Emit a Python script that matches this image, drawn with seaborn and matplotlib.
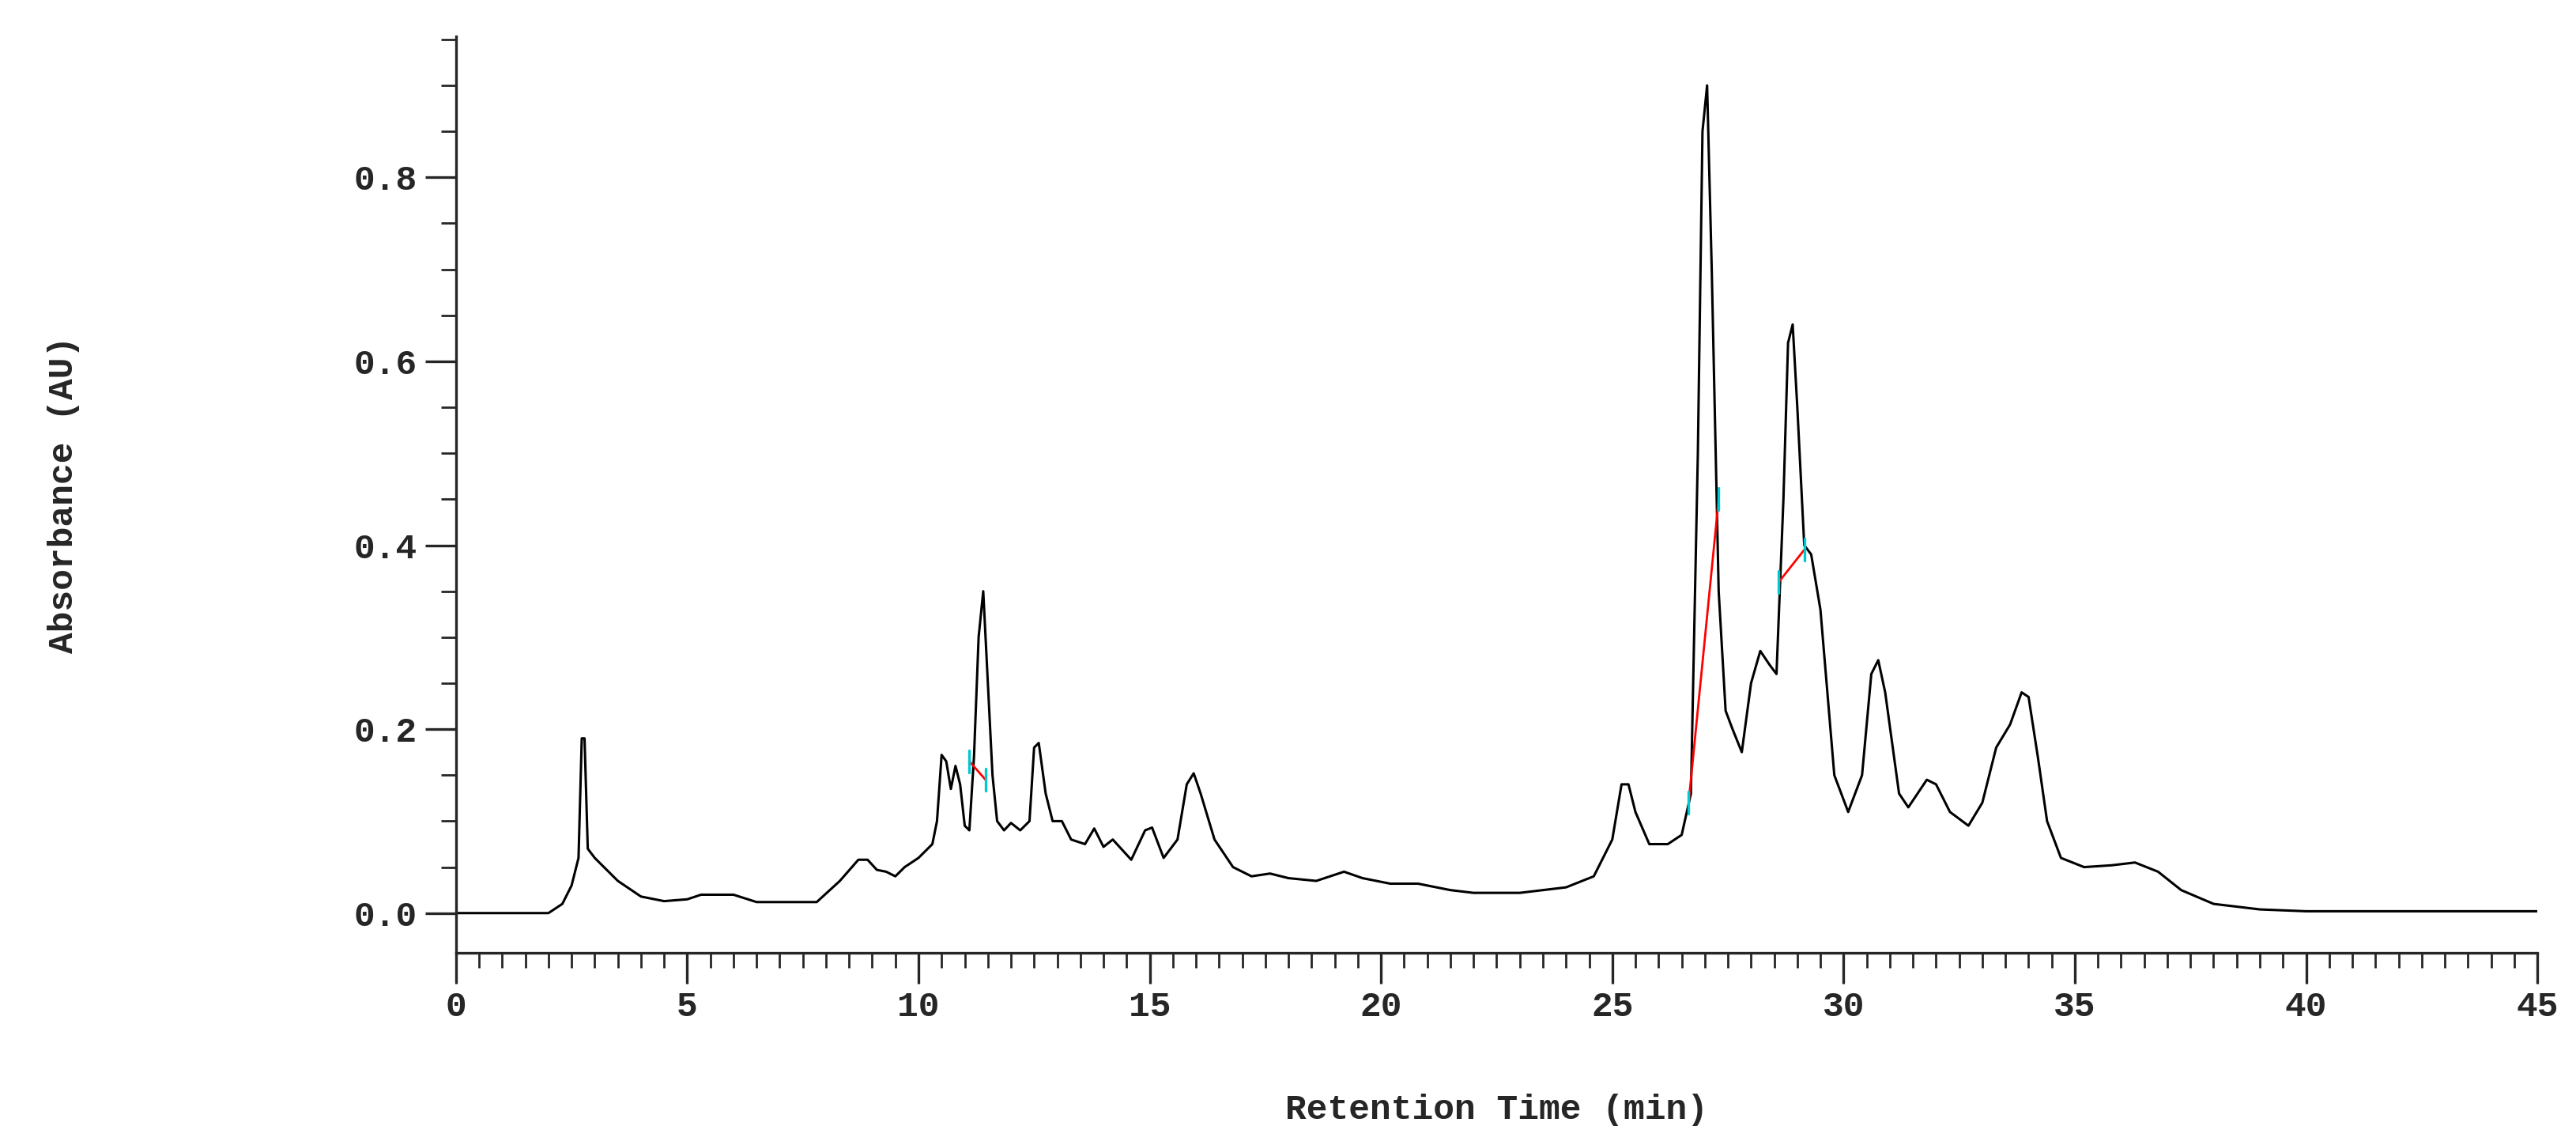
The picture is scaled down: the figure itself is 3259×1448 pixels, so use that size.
import numpy as np
import pandas as pd
import seaborn as sns
import matplotlib.pyplot as plt
from matplotlib.ticker import MultipleLocator

sns.set_style("ticks")
plt.rcParams['font.family'] = ['Liberation Mono', 'DejaVu Sans Mono']

# хроматограмма: время удерживания (мин) и поглощение (AU)
time_min = [0, 2.0, 2.3, 2.5, 2.65, 2.72, 2.78, 2.85, 3.0, 3.5, 4.0, 4.5, 5.0, 5.3, 6.0, 6.5,
            7.0, 7.8, 8.3, 8.7, 8.9, 9.1, 9.3, 9.5, 9.7, 10.0, 10.3, 10.4, 10.5, 10.6, 10.7,
            10.8, 10.9, 11.0, 11.1, 11.2, 11.3, 11.4, 11.5, 11.6, 11.7, 11.85, 12.0, 12.2,
            12.4, 12.5, 12.6, 12.75, 12.9, 13.1, 13.3, 13.6, 13.8, 14.0, 14.2, 14.6, 14.9,
            15.05, 15.3, 15.6, 15.8, 15.95, 16.1, 16.4, 16.8, 17.2, 17.6, 18.0, 18.6, 19.2,
            19.6, 20.2, 20.8, 21.5, 22.0, 23.0, 24.0, 24.6, 25.0, 25.2, 25.35, 25.5, 25.8,
            26.2, 26.5, 26.7, 26.85, 26.95, 27.05, 27.15, 27.3, 27.45, 27.6, 27.8, 28.0,
            28.2, 28.4, 28.55, 28.7, 28.8, 28.9, 29.0, 29.15, 29.3, 29.5, 29.8, 30.1, 30.4,
            30.6, 30.75, 30.9, 31.2, 31.4, 31.8, 32.0, 32.3, 32.7, 33.0, 33.3, 33.6, 33.85,
            34.0, 34.2, 34.4, 34.7, 35.2, 35.8, 36.3, 36.8, 37.3, 38.0, 39.0, 40.0, 45.0]
absorbance = [0, 0, 0.01, 0.03, 0.06, 0.19, 0.19, 0.07, 0.06, 0.035, 0.018, 0.013, 0.015, 0.02,
              0.02, 0.012, 0.012, 0.012, 0.035, 0.058, 0.058, 0.047, 0.045, 0.04, 0.05, 0.06,
              0.075, 0.1, 0.172, 0.165, 0.135, 0.16, 0.14, 0.095, 0.09, 0.17, 0.3, 0.35, 0.25,
              0.15, 0.1, 0.09, 0.098, 0.09, 0.1, 0.18, 0.185, 0.13, 0.1, 0.1, 0.08, 0.075,
              0.092, 0.072, 0.08, 0.058, 0.09, 0.093, 0.06, 0.08, 0.14, 0.152, 0.13, 0.08,
              0.05, 0.04, 0.043, 0.038, 0.035, 0.045, 0.038, 0.032, 0.032, 0.025, 0.022,
              0.022, 0.028, 0.04, 0.08, 0.14, 0.14, 0.11, 0.075, 0.075, 0.085, 0.13, 0.5,
              0.85, 0.9, 0.7, 0.35, 0.22, 0.2, 0.175, 0.25, 0.285, 0.27, 0.26, 0.45, 0.62,
              0.64, 0.55, 0.4, 0.39, 0.33, 0.15, 0.11, 0.15, 0.26, 0.275, 0.24, 0.13, 0.115,
              0.145, 0.14, 0.11, 0.095, 0.12, 0.18, 0.205, 0.24, 0.235, 0.17, 0.1, 0.06,
              0.05, 0.052, 0.055, 0.045, 0.025, 0.01, 0.004, 0.002, 0.002]

# базовые линии интегрирования пиков (начало, конец)
baseline_t = [(11.1, 11.45), (26.65, 27.3), (28.6, 29.15)]
baseline_a = [(0.165, 0.145), (0.12, 0.45), (0.36, 0.395)]

df = pd.DataFrame({'t': time_min, 'a': absorbance})

fig = plt.figure(figsize=(16.295, 7.24), dpi=200)
ax = fig.add_axes([0.177, 0.168, 0.808, 0.80])
sns.lineplot(data=df, x='t', y='a', ax=ax, color='black', linewidth=1.1,
             sort=False, estimator=None)

for (t0, t1), (a0, a1) in zip(baseline_t, baseline_a):
    ax.plot([t0, t1], [a0, a1], color='red', linewidth=1.0)
    for t, a in ((t0, a0), (t1, a1)):
        ax.plot([t, t], [a - 0.012, a + 0.012], color='#00c8d0', linewidth=1.2)

ax.set_xlim(0, 45)
ax.set_ylim(-0.043, 0.953)
ax.xaxis.set_major_locator(MultipleLocator(5))
ax.xaxis.set_minor_locator(MultipleLocator(0.5))
ax.yaxis.set_major_locator(MultipleLocator(0.2))
ax.yaxis.set_minor_locator(MultipleLocator(0.05))
ax.yaxis.set_major_formatter(plt.FuncFormatter(lambda v, p: f"{v:.1f}"))
ax.tick_params(which='major', length=14, width=1.2, labelsize=16)
ax.tick_params(which='minor', length=7, width=1.0)
for lab in ax.get_xticklabels() + ax.get_yticklabels():
    lab.set_fontweight('bold')
sns.despine(ax=ax)
for s in ('left', 'bottom'):
    ax.spines[s].set_linewidth(1.2)

ax.set_xlabel('Retention Time (min)', fontsize=16, fontweight='bold', labelpad=32)
ax.set_ylabel('Absorbance (AU)', fontsize=16, fontweight='bold', labelpad=125)

fig.savefig('out.png', dpi=200)
